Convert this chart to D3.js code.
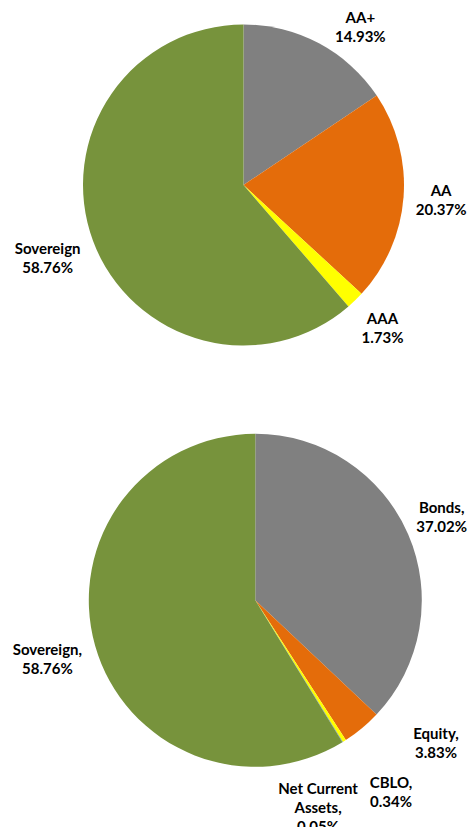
<!DOCTYPE html>
<html>
<head>
<meta charset="utf-8">
<script src="https://cdn.jsdelivr.net/npm/d3@7"></script>
<style>
  html, body { margin: 0; padding: 0; background: #fff; }
  svg { display: block; }
  .lbl { font-family: Lato, "Open Sans", sans-serif; font-weight: 700; font-size: 15px; fill: #000; }
</style>
</head>
<body>
<svg id="chart" width="471" height="827"></svg>
<script>
// Credit rating split of the debt holdings (%)
const ratingCategories = ["AA+", "AA", "AAA", "Sovereign"];
const ratingValues = [14.93, 20.37, 1.73, 58.76];

// Asset class split of the portfolio (%)
const assetCategories = ["Bonds", "Equity", "CBLO", "Net Current Assets", "Sovereign"];
const assetValues = [37.02, 3.83, 0.34, 0.05, 58.76];

const ratingPalette = ["#808080", "#E46C0A", "#FFFF00", "#77933C"];
const assetPalette = ["#808080", "#E46C0A", "#FFFF00", "#4F81BD", "#77933C"];

const svg = d3.select("#chart");
const W = 471, H = 827;
const LINE = 19, GAP = 11, TOP_PAD = 8.5, SIDE_PAD = 4, WRAP = 84, PAD = 10;

svg.append("rect").attr("width", W).attr("height", H).attr("fill", "#fff");

function wrapWords(text, maxW, measure) {
  const words = text.split(" ");
  const lines = [];
  let cur = "";
  words.forEach(w => {
    const t = cur ? cur + " " + w : w;
    if (cur && measure(t) > maxW) { lines.push(cur); cur = w; } else cur = t;
  });
  if (cur) lines.push(cur);
  return lines;
}

function drawPie(cfg) {
  const data = cfg.categories.map((c, i) => ({ name: c, value: cfg.values[i] }));
  const color = d3.scaleOrdinal().domain(cfg.categories).range(cfg.palette);
  const pie = d3.pie().sort(null).value(d => d.value).startAngle(0).endAngle(2 * Math.PI);
  const arc = d3.arc().innerRadius(0).outerRadius(cfg.r);
  const arcs = pie(data);

  const g = svg.append("g").attr("transform", `translate(${cfg.cx},${cfg.cy})`);
  g.selectAll("path").data(arcs).join("path")
    .attr("d", arc)
    .attr("fill", d => color(d.data.name));

  // measuring helper
  const probe = svg.append("text").attr("class", "lbl");
  const measure = s => { probe.text(s); return probe.node().getComputedTextLength(); };

  const labels = arcs.map(a => {
    const pct = a.data.value.toFixed(2) + "%";
    const lines = cfg.comma
      ? wrapWords(a.data.name + ",", WRAP, measure).concat([pct])
      : [a.data.name, pct];
    const w = d3.max(lines, measure);
    return { lines, w, h: lines.length * LINE, angle: (a.startAngle + a.endAngle) / 2, extra: 0 };
  });
  probe.remove();

  function place(L) {
    const s = Math.sin(L.angle), c = -Math.cos(L.angle);
    const ext = Math.abs(s) * L.w / 2 + Math.abs(c) * L.h / 2;
    const R = cfg.r + GAP + ext + L.extra;
    L.x = cfg.cx + s * R;
    L.y = cfg.cy + c * R;
    const minY = TOP_PAD + L.h / 2;
    if (L.y < minY) {
      L.y = minY;
      const dy = cfg.cy - (L.y + L.h / 2);
      const need = cfg.r + GAP / 2;
      if (dy < need) {
        const side = s >= 0 ? 1 : -1;
        const nx = cfg.cx + side * (Math.sqrt(need * need - dy * dy) + L.w / 2);
        if (side * (nx - L.x) > 0) L.x = nx;
      }
    }
    L.x = Math.max(SIDE_PAD + L.w / 2, Math.min(W - SIDE_PAD - L.w / 2, L.x));
  }
  const overlap = (a, b, p) =>
    Math.abs(a.x - b.x) < (a.w + b.w) / 2 + p && Math.abs(a.y - b.y) < (a.h + b.h) / 2 + p;

  // spread crowded labels around the rim; the earlier label of a clash also steps outward
  labels.forEach(place);
  const step = 0.25 * Math.PI / 180;
  for (let it = 0; it < 800; it++) {
    let moved = false;
    for (let i = 0; i < labels.length - 1; i++) {
      const a = labels[i], b = labels[i + 1];
      if (overlap(a, b, PAD)) {
        a.angle -= step; b.angle += step;
        a.extra += 0.5;
        moved = true;
      }
    }
    labels.forEach(place);
    if (!moved) break;
  }

  const t = svg.append("g").selectAll("text").data(labels).join("text")
    .attr("class", "lbl")
    .attr("text-anchor", "middle");
  t.each(function (L) {
    d3.select(this).selectAll("tspan").data(L.lines).join("tspan")
      .attr("x", L.x)
      .attr("y", (d, i) => L.y - L.h / 2 + LINE * (i + 0.5))
      .attr("dy", "0.35em")
      .text(d => d);
  });
}

drawPie({ categories: ratingCategories, values: ratingValues, palette: ratingPalette,
          cx: 243.5, cy: 185, r: 160.5, comma: false });
drawPie({ categories: assetCategories, values: assetValues, palette: assetPalette,
          cx: 255.3, cy: 600.3, r: 166.5, comma: true });
</script>
</body>
</html>
